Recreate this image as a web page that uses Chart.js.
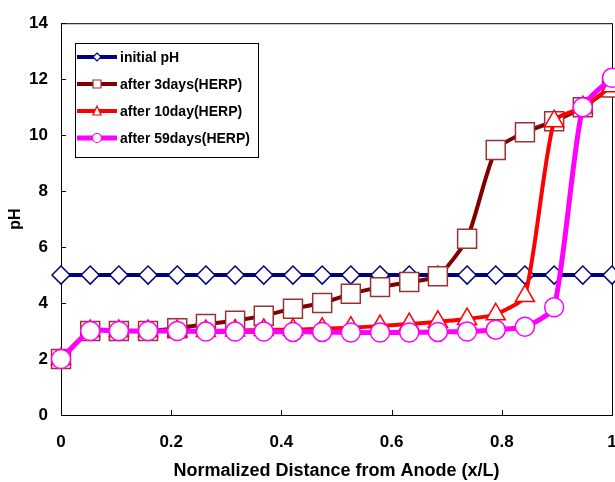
<!DOCTYPE html>
<html>
<head>
<meta charset="utf-8">
<script src="https://cdn.jsdelivr.net/npm/chart.js@4"></script>
<style>
  html, body { margin: 0; padding: 0; background: #fff; }
  #wrap { width: 615px; height: 482px; }
</style>
</head>
<body>
<div id="wrap"><canvas id="ph" width="615" height="482"></canvas></div>
<script>
// normalized distance of each measuring point
const xPos = [0, 0.053, 0.105, 0.158, 0.211, 0.263, 0.316, 0.368, 0.421, 0.474,
              0.526, 0.579, 0.632, 0.684, 0.737, 0.789, 0.842, 0.895, 0.947, 1];

const initialPH = [5, 5, 5, 5, 5, 5, 5, 5, 5, 5, 5, 5, 5, 5, 5, 5, 5, 5, 5, 5];
const after3days = [2.0, 3.0, 3.0, 3.0, 3.1, 3.25, 3.37, 3.55, 3.8, 4.0,
                    4.33, 4.57, 4.75, 4.96, 6.3, 9.47, 10.1, 10.5, 11.0, 11.7];
const after10day = [2.0, 3.0, 3.0, 3.0, 3.0, 3.0, 3.02, 3.04, 3.05, 3.08,
                    3.12, 3.18, 3.25, 3.33, 3.43, 3.6, 4.25, 10.5, 11.0, 11.75];
const after59days = [2.0, 3.0, 3.0, 3.0, 3.0, 2.98, 2.98, 2.98, 2.97, 2.97,
                     2.95, 2.95, 2.95, 2.97, 2.98, 3.05, 3.15, 3.85, 11.0, 12.05];

const labels = ['initial pH', 'after 3days(HERP)', 'after 10day(HERP)', 'after 59days(HERP)'];
const yTicks = [0, 2, 4, 6, 8, 10, 12, 14];
const xTicks = [0, 0.2, 0.4, 0.6, 0.8, 1];

const FONT = "'Liberation Sans', Arial, sans-serif";

function toPoints(vals) {
    return vals.map((v, i) => ({ x: xPos[i], y: v }));
}

const series = [
    { label: labels[0], data: initialPH, line: '#000080', edge: '#000080', shape: 'rectRot', r: 9, w: 4, order: 4 },
    { label: labels[1], data: after3days, line: '#800000', edge: '#993333', shape: 'rect', r: 13.4, w: 4, order: 3 },
    { label: labels[2], data: after10day, line: '#FF0000', edge: '#FF0000', shape: 'triangle', r: 11, w: 4, order: 2 },
    { label: labels[3], data: after59days, line: '#FF00FF', edge: '#FF00FF', shape: 'circle', r: 9.5, w: 5, order: 1 },
];

// axis frame and inward tick marks
const framePlugin = {
    id: 'frame',
    beforeDatasetsDraw(chart) {
        const { ctx, chartArea: a, scales } = chart;
        ctx.save();
        ctx.strokeStyle = '#000';
        ctx.lineWidth = 1;
        ctx.strokeRect(a.left + 0.5, a.top + 0.5, a.right - a.left, a.bottom - a.top);
        ctx.beginPath();
        scales.x.ticks.forEach(t => {
            const px = Math.round(scales.x.getPixelForValue(t.value)) + 0.5;
            ctx.moveTo(px, a.bottom);
            ctx.lineTo(px, a.bottom - 5);
        });
        scales.y.ticks.forEach(t => {
            const py = Math.round(scales.y.getPixelForValue(t.value)) + 0.5;
            ctx.moveTo(a.left, py);
            ctx.lineTo(a.left + 5, py);
        });
        ctx.stroke();
        ctx.restore();
    }
};

function markerPath(ctx, shape, x, y, s) {
    ctx.beginPath();
    if (shape === 'rectRot') {
        ctx.moveTo(x, y - s); ctx.lineTo(x + s, y); ctx.lineTo(x, y + s); ctx.lineTo(x - s, y);
        ctx.closePath();
    } else if (shape === 'rect') {
        ctx.rect(x - s, y - s, 2 * s, 2 * s);
    } else if (shape === 'triangle') {
        ctx.moveTo(x, y - s - 1); ctx.lineTo(x + s, y + s); ctx.lineTo(x - s, y + s);
        ctx.closePath();
    } else {
        ctx.arc(x, y, s, 0, Math.PI * 2);
    }
}

// boxed legend inside the plot, like the original
const legendBox = {
    id: 'legendBox',
    afterDraw(chart) {
        const ctx = chart.ctx;
        ctx.save();
        ctx.fillStyle = '#fff';
        ctx.fillRect(75, 43, 183, 114);
        ctx.strokeStyle = '#000';
        ctx.lineWidth = 1;
        ctx.strokeRect(75.5, 43.5, 183, 114);
        ctx.font = 'bold 14px ' + FONT;
        ctx.textBaseline = 'middle';
        series.forEach((s, i) => {
            const y = 57 + i * 27;
            ctx.strokeStyle = s.line;
            ctx.lineWidth = s.w;
            ctx.beginPath();
            ctx.moveTo(77, y);
            ctx.lineTo(117, y);
            ctx.stroke();
            markerPath(ctx, s.shape, 97, y, s.shape === 'circle' ? 4.5 : 4);
            ctx.fillStyle = '#fff';
            ctx.fill();
            ctx.lineWidth = 1.2;
            ctx.strokeStyle = s.edge;
            ctx.stroke();
            ctx.fillStyle = '#000';
            ctx.fillText(s.label, 120, y + 1);
        });
        ctx.restore();
    }
};

new Chart(document.getElementById('ph'), {
    type: 'line',
    data: {
        datasets: series.map(s => ({
            label: s.label,
            data: toPoints(s.data),
            borderColor: s.line,
            borderWidth: s.w,
            backgroundColor: '#fff',
            pointStyle: s.shape,
            pointRadius: s.r,
            pointBackgroundColor: '#fff',
            pointBorderColor: s.edge,
            pointBorderWidth: 1.5,
            tension: 0.2,
            clip: false,
            order: s.order
        }))
    },
    options: {
        responsive: false,
        animation: false,
        events: [],
        layout: { autoPadding: false, padding: { top: 20, right: 3, left: 0, bottom: 0 } },
        plugins: { legend: { display: false }, tooltip: { enabled: false } },
        scales: {
            x: {
                type: 'linear',
                min: 0, max: 1,
                afterBuildTicks: sc => { sc.ticks = xTicks.map(v => ({ value: v })); },
                afterFit: sc => { sc.height = 67; sc.paddingLeft = 0; sc.paddingRight = 0; },
                grid: { display: false, drawTicks: false },
                border: { display: false },
                ticks: {
                    color: '#000', padding: 17, maxRotation: 0,
                    callback: v => String(v),
                    font: { family: FONT, size: 17, weight: 'bold' }
                },
                title: {
                    display: true, text: 'Normalized Distance from Anode (x/L)', color: '#000',
                    font: { family: FONT, size: 18, weight: 'bold' },
                    padding: { top: 0, bottom: 0 }
                }
            },
            y: {
                min: 0, max: 14,
                afterBuildTicks: sc => { sc.ticks = yTicks.map(v => ({ value: v })); },
                afterFit: sc => { sc.width = 61; },
                grid: { display: false, drawTicks: false },
                border: { display: false },
                ticks: {
                    color: '#000', padding: 13,
                    font: { family: FONT, size: 17, weight: 'bold' }
                },
                title: {
                    display: true, text: 'pH', color: '#000',
                    font: { family: FONT, size: 16, weight: 'bold' },
                    padding: { top: 6, bottom: 0 }
                }
            }
        }
    },
    plugins: [framePlugin, legendBox]
});
</script>
</body>
</html>
